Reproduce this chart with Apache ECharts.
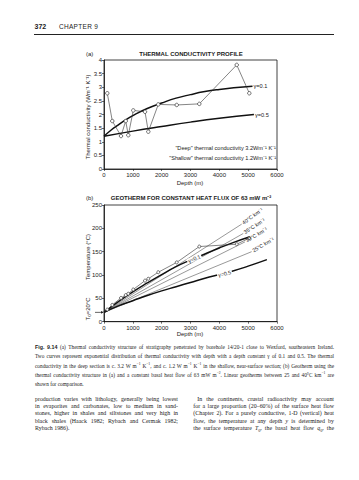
<!DOCTYPE html>
<html><head><meta charset="utf-8">
<script src="https://cdn.jsdelivr.net/npm/echarts@6/dist/echarts.min.js"></script>
<style>
html,body{margin:0;padding:0;background:#fff;}
#page{position:relative;width:359px;height:480px;overflow:hidden;background:#fff;}
#chart{position:absolute;left:0;top:0;width:359px;height:480px;}
.t{position:absolute;font-family:"Liberation Serif",serif;color:#222;white-space:nowrap;line-height:7px;}
.cap{font-size:5.3px;}
.body{font-size:5.9px;}
.hd{position:absolute;font-family:"Liberation Sans",sans-serif;color:#222;white-space:nowrap;}
.rule{position:absolute;left:34px;top:33.5px;width:300px;height:1px;background:#222;}
</style>
</head><body>
<div id="page">
<div id="chart"></div>
<div class="hd" style="left:34.5px;top:22.5px;font-size:7px;font-weight:bold;">372</div>
<div class="hd" style="left:59px;top:23px;font-size:6.5px;letter-spacing:0.3px;">CHAPTER 9</div>
<div class="rule"></div>
<div id="texts"></div>
</div>
<script>
// ---- data ----
const depthTicks = [0, 1000, 2000, 3000, 4000, 5000, 6000];
const kTicks = [0, 0.5, 1, 1.5, 2, 2.5, 3, 3.5, 4];
const tTicks = [0, 50, 100, 150, 200, 250];

// (a) measured conductivity profile
const kDepth = [114, 288, 590, 753, 843, 1016, 1422, 1537, 1883, 2522, 3306, 4603, 5040];
const kValue = [2.78, 1.76, 1.21, 1.76, 1.24, 2.15, 2.10, 1.37, 2.37, 2.35, 2.39, 3.82, 2.78];
// (a) exponential curves
const g01Depth = [0, 250, 500, 750, 1000, 1500, 2000, 2500, 3000, 3500, 4000, 4500, 5150];
const g01Value = [1.2, 1.43, 1.62, 1.8, 1.96, 2.22, 2.42, 2.6, 2.73, 2.84, 2.92, 2.98, 3.04];
const g05Depth = [0, 1000, 2000, 3000, 4000, 5200];
const g05Value = [1.2, 1.39, 1.56, 1.72, 1.86, 2.0];

// (b) geotherm from measured profile
const tDepth = [0, 114, 288, 590, 753, 843, 1016, 1422, 1537, 1883, 2522, 3306, 4603, 5040];
const tValue = [20, 26, 36, 51, 57, 60, 69, 88, 92, 106, 127, 161, 166, 179];
// (b) exponential-model geotherms
const tg01Depth = [0, 500, 1000, 1500, 2000, 2500, 3000, 3500, 4000, 4500, 5060];
const tg01Value = [20, 43, 64, 83, 101, 118, 132, 145, 158, 170, 182];
const tg05Depth = [0, 500, 1000, 1500, 2000, 2500, 3000, 3500, 4000, 4500, 5000, 5650];
const tg05Value = [20, 34, 45, 56, 66, 75, 84, 93, 101, 109, 119, 133];
// (b) linear geotherms
const linNames = ['40°C km⁻¹', '35°C km⁻¹', '30°C km⁻¹', '25°C km⁻¹'];
const linEndDepth = [4775, 4830, 4890, 5120];
const linEndT = [209, 189, 171, 150];
const linStart = [0, 20];

// caption & body text
const captionLines = [
 ['<b style="font-family:Liberation Sans,sans-serif">Fig. 9.14</b> (a) Thermal conductivity structure of stratigraphy penetrated by borehole 14/20-1 close to Wexford, southeastern Ireland.', true],
 ['Two curves represent exponential distribution of thermal conductivity with depth with a depth constant γ of 0.1 and 0.5. The thermal', true],
 ['conductivity in the deep section is c. 3.2 W m<sup>−1</sup> K<sup>−1</sup>, and c. 1.2 W m<sup>−1</sup> K<sup>−1</sup> in the shallow, near-surface section; (b) Geotherm using the', true],
 ['thermal conductivity structure in (a) and a constant basal heat flow of 63 mW m<sup>−2</sup>. Linear geotherms between 25 and 40°C km<sup>−1</sup> are', true],
 ['shown for comparison.', false]
];
const leftCol = [
 ['production varies with lithology, generally being lowest', true],
 ['in evaporites and carbonates, low to medium in sand-', true],
 ['stones, higher in shales and siltstones and very high in', true],
 ['black shales (Haack 1982; Rybach and Cermak 1982;', true],
 ['Rybach 1986).', false]
];
const rightCol = [
 ['In the continents, crustal radioactivity may account', true],
 ['for a large proportion (20–60%) of the surface heat flow', true],
 ['(Chapter 2). For a purely conductive, 1-D (vertical) heat', true],
 ['flow, the temperature at any depth <i>y</i> is determined by', true],
 ['the surface temperature <i>T</i><sub>0</sub>, the basal heat flow <i>q</i><sub>0</sub>, the', true]
];

// ---- page text ----
const holder = document.getElementById('texts');
function addLine(html, cls, left, width, cy, justify) {
  const d = document.createElement('div');
  d.className = 't ' + cls;
  d.style.left = left + 'px';
  d.style.top = (cy - 3.5) + 'px';
  d.innerHTML = html;
  d.querySelectorAll('sup,sub').forEach(s => { s.style.fontSize = '70%'; s.style.lineHeight = '0'; });
  holder.appendChild(d);
  if (justify) {
    const w = d.getBoundingClientRect().width;
    const spaces = (d.textContent.match(/ /g) || []).length;
    if (spaces > 0) d.style.wordSpacing = ((width - w) / spaces) + 'px';
  }
}
const capY = [347.3, 356.7, 366, 375.3, 384.7];
captionLines.forEach((l, i) => addLine(l[0], 'cap', 35, 299, capY[i], l[1]));
const bodyY = [399, 406.3, 413.7, 421, 428.3];
leftCol.forEach((l, i) => addLine(l[0], 'body', 35, 143, bodyY[i], l[1]));
rightCol.forEach((l, i) => addLine(l[0], 'body', i === 0 ? 197.3 : 193.3, i === 0 ? 136.7 : 140.7, bodyY[i], l[1]));

// ---- chart ----
const FONT = '"Liberation Sans", Arial, sans-serif';
const zip = (a, b) => a.map((v, i) => [v, b[i]]);
const chart = echarts.init(document.getElementById('chart'), null, { renderer: 'svg' });

function xAx(g) {
  return { gridIndex: g, type: 'value', min: depthTicks[0], max: depthTicks[depthTicks.length - 1], interval: 1000,
    axisLine: { lineStyle: { color: '#111', width: 0.8 } },
    axisTick: { show: true, length: 2, lineStyle: { color: '#111', width: 0.6 } },
    axisLabel: { fontSize: 6, color: '#222', margin: 3, fontFamily: FONT, formatter: v => String(v) },
    splitLine: { show: false } };
}
function yAx(g, ticks, iv) {
  return { gridIndex: g, type: 'value', min: ticks[0], max: ticks[ticks.length - 1], interval: iv,
    axisLine: { show: true, lineStyle: { color: '#111', width: 0.8 } },
    axisTick: { show: true, length: 2, lineStyle: { color: '#111', width: 0.6 } },
    axisLabel: { fontSize: 6, color: '#222', margin: 2, fontFamily: FONT, formatter: v => String(v) },
    splitLine: { show: false } };
}
const thin = { color: '#333', width: 0.6 };
const bold = { color: '#111', width: 1.5 };
const sym = { color: '#fff', borderColor: '#333', borderWidth: 0.7 };

const series = [
  { type: 'line', xAxisIndex: 0, yAxisIndex: 0, data: zip(g01Depth, g01Value), smooth: true, showSymbol: false, symbol: 'none', lineStyle: bold, z: 3 },
  { type: 'line', xAxisIndex: 0, yAxisIndex: 0, data: zip(g05Depth, g05Value), smooth: true, showSymbol: false, symbol: 'none', lineStyle: bold, z: 3 },
  { type: 'line', xAxisIndex: 0, yAxisIndex: 0, data: zip(kDepth, kValue), symbol: 'circle', symbolSize: 3.5, itemStyle: sym, lineStyle: thin, z: 4 },
];
linNames.forEach((n, i) => series.push({ type: 'line', xAxisIndex: 1, yAxisIndex: 1, data: [linStart, [linEndDepth[i], linEndT[i]]], symbol: 'none', lineStyle: { color: '#333', width: 0.5 }, z: 2 }));
series.push({ type: 'line', xAxisIndex: 1, yAxisIndex: 1, data: zip(tg01Depth, tg01Value), smooth: true, symbol: 'none', lineStyle: bold, z: 3 });
series.push({ type: 'line', xAxisIndex: 1, yAxisIndex: 1, data: zip(tg05Depth, tg05Value), smooth: true, symbol: 'none', lineStyle: bold, z: 3 });
series.push({ type: 'line', xAxisIndex: 1, yAxisIndex: 1, data: zip(tDepth, tValue).map((p, i) => i === 0 ? { value: p, symbol: 'none' } : p), symbol: 'circle', symbolSize: 3, itemStyle: sym, lineStyle: thin, z: 4 });

chart.setOption({
  animation: false,
  grid: [
    { left: 104, top: 60, width: 173, height: 109, show: true, borderColor: '#111', borderWidth: 0.8 },
    { left: 104, top: 205, width: 173, height: 116.7, show: true, borderColor: '#111', borderWidth: 0.8 }
  ],
  xAxis: [xAx(0), xAx(1)],
  yAxis: [yAx(0, kTicks, 0.5), yAx(1, tTicks, 50)],
  series: series
});

const P = (g, x, y) => chart.convertToPixel({ gridIndex: g }, [x, y]);
function txt(x, y, text, o) {
  o = o || {};
  return { type: 'text', x: x, y: y, rotation: (o.rot || 0) * Math.PI / 180, z: 100,
    style: { text: text, font: (o.weight || 'normal') + ' ' + (o.size || 6) + 'px ' + FONT, fill: '#222',
      textAlign: o.align || 'left', textVerticalAlign: o.valign || 'middle',
      backgroundColor: o.bg, padding: o.bg ? [0, 1] : 0 } };
}
const g = [];
// panel (a)
g.push(txt(86, 54, '(a)', { size: 6 }));
g.push(txt(191, 54, 'THERMAL CONDUCTIVITY PROFILE', { size: 6, weight: 'bold', align: 'center' }));
g.push(txt(88, 117, 'Thermal conductivity (Wm⁻¹ K⁻¹)', { size: 6, align: 'center', rot: 90 }));
g.push(txt(190, 183, 'Depth (m)', { size: 6, align: 'center' }));
g.push(txt(276, 148, '"Deep" thermal conductivity 3.2Wm⁻¹ K⁻¹', { size: 5.6, align: 'right' }));
g.push(txt(276, 158.3, '"Shallow" thermal conductivity 1.2Wm⁻¹ K⁻¹', { size: 5.6, align: 'right' }));
let e1 = P(0, g01Depth[g01Depth.length - 1], g01Value[g01Value.length - 1]);
g.push(txt(e1[0] + 1, e1[1], 'γ=0.1', { size: 5.6 }));
let e2 = P(0, g05Depth[g05Depth.length - 1], g05Value[g05Value.length - 1]);
g.push(txt(e2[0] + 1, e2[1], 'γ=0.5', { size: 5.6 }));
// panel (b)
g.push(txt(86, 198, '(b)', { size: 6 }));
g.push(txt(191, 198, 'GEOTHERM FOR CONSTANT HEAT FLUX OF 63 mW m⁻²', { size: 6, weight: 'bold', align: 'center' }));
g.push(txt(88, 257, 'Temperature (°C)', { size: 6, align: 'center', rot: 90 }));
g.push(txt(88, 309, 'T₀=20°C', { size: 6, align: 'center', rot: 90 }));
g.push(txt(190, 334.3, 'Depth (m)', { size: 6, align: 'center' }));
const rots = [36, 33, 31, 30];
linNames.forEach((n, i) => {
  const p = P(1, linEndDepth[i], linEndT[i]);
  g.push(txt(p[0] + 1, p[1] - 1, n, { size: 5.3, rot: rots[i] }));
});
let q1 = P(1, 3130, 135);
g.push(txt(q1[0], q1[1], 'γ=0.1', { size: 5.3, align: 'center', rot: 22, bg: '#fff' }));
let q2 = P(1, 4180, 103);
g.push(txt(q2[0], q2[1], 'γ=0.5', { size: 5.3, align: 'center', rot: 12, bg: '#fff' }));
// T0 arrow
let a0 = P(1, 0, 20);
g.push({ type: 'line', z: 100, shape: { x1: a0[0] - 9, y1: a0[1], x2: a0[0] - 1, y2: a0[1] }, style: { stroke: '#222', lineWidth: 0.7 } });
g.push({ type: 'polygon', z: 100, shape: { points: [[a0[0] - 0.5, a0[1]], [a0[0] - 3, a0[1] - 1.3], [a0[0] - 3, a0[1] + 1.3]] }, style: { fill: '#222' } });
chart.setOption({ graphic: g });
</script>
</body></html>
